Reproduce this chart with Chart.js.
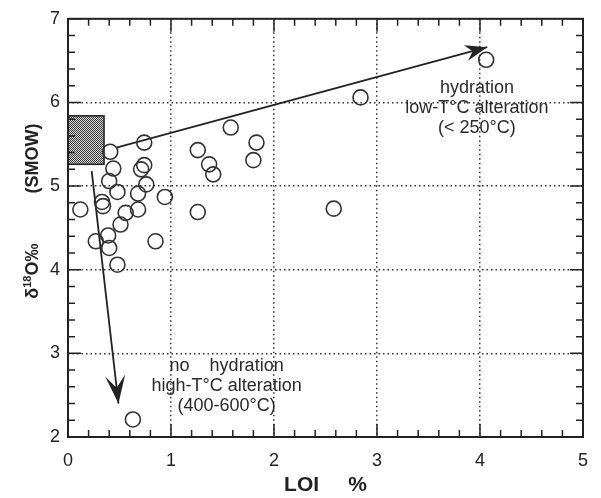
<!DOCTYPE html>
<html>
<head>
<meta charset="utf-8">
<script src="https://cdn.jsdelivr.net/npm/chart.js@4.4.1/dist/chart.umd.min.js"></script>
<style>
  html, body { margin: 0; padding: 0; background: #fff; }
  canvas { display: block; }
</style>
</head>
<body>
<canvas id="chart" width="601" height="498"></canvas>
<script>
// samples: LOI (wt %) and d18O (permil SMOW)
const loi  = [0.12, 0.27, 0.33, 0.34, 0.39, 0.40, 0.40, 0.41, 0.44, 0.48, 0.48, 0.51, 0.56, 0.68, 0.68, 0.71,
              0.74, 0.74, 0.76, 0.85, 0.94, 1.26, 1.26, 1.37, 1.41, 1.58, 1.80, 1.83, 2.58, 2.84, 4.06, 0.63];
const d18o = [4.72, 4.34, 4.81, 4.76, 4.41, 4.26, 5.06, 5.41, 5.21, 4.93, 4.06, 4.54, 4.68, 4.72, 4.91, 5.20,
              5.25, 5.52, 5.02, 4.34, 4.87, 5.43, 4.69, 5.26, 5.14, 5.70, 5.31, 5.52, 4.73, 6.06, 6.51, 2.21];

// fresh rock field (shaded box)
const boxLoi  = [0, 0.35];
const boxD18o = [5.26, 5.84];

// trend arrows
const upArrowLoi    = [0.47, 4.07];
const upArrowD18o   = [5.46, 6.66];
const downArrowLoi  = [0.23, 0.49];
const downArrowD18o = [5.18, 2.40];

// notes
const upNoteLines = ["hydration", "low-T°C alteration", "(< 250°C)"];
const upNoteLoi = 3.97;
const upNoteD18o = [6.17, 5.93, 5.69];
const lowNoteLines = ["no    hydration", "high-T°C alteration", "(400-600°C)"];
const lowNoteLoi = 1.54;
const lowNoteD18o = [2.85, 2.61, 2.37];

const xRange = [0, 5];
const yRange = [2, 7];
const minorStep = 0.2;

const FONT = "'Liberation Sans', Arial, Helvetica, sans-serif";
const INK = "#222";

function hatch() {
  const c = document.createElement("canvas");
  c.width = 2; c.height = 2;
  const g = c.getContext("2d");
  g.fillStyle = "#d8d8d8"; g.fillRect(0, 0, 2, 2);
  g.fillStyle = "#3a3a3a"; g.fillRect(0, 0, 1, 1); g.fillRect(1, 1, 1, 1);
  return g.createPattern(c, "repeat");
}

function head(ctx, from, to, len, half, notch) {
  const a = Math.atan2(to[1] - from[1], to[0] - from[0]);
  ctx.save();
  ctx.translate(to[0], to[1]);
  ctx.rotate(a);
  ctx.beginPath();
  ctx.moveTo(0, 0);
  ctx.lineTo(-len, -half);
  ctx.lineTo(-len + notch, 0);
  ctx.lineTo(-len, half);
  ctx.closePath();
  ctx.fill();
  ctx.restore();
}

const extras = {
  id: "extras",
  beforeDatasetsDraw(chart) {
    const {ctx} = chart, sx = chart.scales.x, sy = chart.scales.y;
    const x0 = sx.getPixelForValue(boxLoi[0]), x1 = sx.getPixelForValue(boxLoi[1]);
    const y0 = sy.getPixelForValue(boxD18o[1]), y1 = sy.getPixelForValue(boxD18o[0]);
    ctx.save();
    ctx.fillStyle = hatch();
    ctx.fillRect(x0, y0, x1 - x0, y1 - y0);
    ctx.strokeStyle = INK; ctx.lineWidth = 1.5;
    ctx.strokeRect(x0, y0, x1 - x0, y1 - y0);
    ctx.restore();
  },
  afterDatasetsDraw(chart) {
    const {ctx} = chart, sx = chart.scales.x, sy = chart.scales.y;
    const P = (x, y) => [sx.getPixelForValue(x), sy.getPixelForValue(y)];
    ctx.save();
    ctx.fillStyle = INK;
    head(ctx, P(upArrowLoi[0], upArrowD18o[0]), P(upArrowLoi[1], upArrowD18o[1]), 22, 8, 7);
    head(ctx, P(downArrowLoi[0], downArrowD18o[0]), P(downArrowLoi[1], downArrowD18o[1]), 28, 10, 12);

    ctx.fillStyle = "#2a2a2a";
    ctx.font = "18px " + FONT;
    ctx.textAlign = "center";
    ctx.textBaseline = "middle";
    upNoteLines.forEach((t, i) => { const p = P(upNoteLoi, upNoteD18o[i]); ctx.fillText(t, p[0], p[1]); });
    lowNoteLines.forEach((t, i) => { const p = P(lowNoteLoi, lowNoteD18o[i]); ctx.fillText(t, p[0], p[1]); });
    ctx.restore();
  },
  afterDraw(chart) {
    const {ctx, chartArea: a} = chart, sx = chart.scales.x, sy = chart.scales.y;
    ctx.save();
    ctx.strokeStyle = INK;
    ctx.lineWidth = 1.5;
    ctx.beginPath();
    const nx = Math.round((xRange[1] - xRange[0]) / minorStep);
    for (let i = 0; i <= nx; i++) {
      const X = sx.getPixelForValue(xRange[0] + i * minorStep);
      const L = i % 5 === 0 ? 13 : 7;
      ctx.moveTo(X, a.bottom); ctx.lineTo(X, a.bottom - L);
      ctx.moveTo(X, a.top); ctx.lineTo(X, a.top + L);
    }
    const ny = Math.round((yRange[1] - yRange[0]) / minorStep);
    for (let i = 0; i <= ny; i++) {
      const Y = sy.getPixelForValue(yRange[0] + i * minorStep);
      const L = i % 5 === 0 ? 13 : 7;
      ctx.moveTo(a.left, Y); ctx.lineTo(a.left + L, Y);
      ctx.moveTo(a.right, Y); ctx.lineTo(a.right - L, Y);
    }
    ctx.stroke();
    ctx.lineWidth = 2;
    ctx.strokeRect(a.left, a.top, a.right - a.left, a.bottom - a.top);

    // y axis title with superscript 18
    const cy = a.top + 0.46 * (a.bottom - a.top);
    ctx.translate(33, cy);
    ctx.rotate(-Math.PI / 2);
    ctx.fillStyle = INK;
    ctx.textBaseline = "middle";
    ctx.textAlign = "left";
    const big = "bold 18px " + FONT, small = "bold 11px " + FONT;
    const parts = [["δ", big, 0], ["18", small, -5], ["O‰", big, 0], ["          ", big, 0], ["(SMOW)", big, 0]];
    let w = 0;
    parts.forEach(p => { ctx.font = p[1]; w += ctx.measureText(p[0]).width; });
    let x = -w / 2;
    parts.forEach(p => { ctx.font = p[1]; ctx.fillText(p[0], x, p[2]); x += ctx.measureText(p[0]).width; });
    ctx.restore();
  }
};

const lineStyle = {type: "line", showLine: true, pointRadius: 0, borderColor: INK, borderWidth: 1.8, fill: false};

new Chart(document.getElementById("chart"), {
  type: "scatter",
  data: {
    datasets: [
      {
        data: loi.map((v, i) => ({x: v, y: d18o[i]})),
        pointStyle: "circle",
        pointRadius: 7.5,
        pointBorderWidth: 1.6,
        borderColor: "#333",
        backgroundColor: "rgba(0,0,0,0)"
      },
      Object.assign({data: upArrowLoi.map((v, i) => ({x: v, y: upArrowD18o[i]}))}, lineStyle),
      Object.assign({data: downArrowLoi.map((v, i) => ({x: v, y: downArrowD18o[i]}))}, lineStyle)
    ]
  },
  options: {
    responsive: false,
    animation: false,
    devicePixelRatio: 1,
    layout: {padding: {left: 0, top: 17, right: 14, bottom: 0}},
    plugins: {legend: {display: false}, tooltip: {enabled: false}},
    scales: {
      x: {
        type: "linear", min: xRange[0], max: xRange[1],
        afterFit: s => { s.height = 61; },
        ticks: {stepSize: 1, color: INK, padding: 13, font: {size: 18, family: FONT}},
        grid: {color: "#333", lineWidth: 1.5, drawTicks: false},
        border: {display: false, dash: [1.5, 3]},
        title: {display: true, text: "LOI     %", color: INK, padding: 0, font: {size: 21, weight: "bold", family: FONT}}
      },
      y: {
        type: "linear", min: yRange[0], max: yRange[1],
        afterFit: s => { s.width = 68; },
        ticks: {stepSize: 1, color: INK, padding: 8, font: {size: 18, family: FONT}},
        grid: {color: "#333", lineWidth: 1.5, drawTicks: false},
        border: {display: false, dash: [1.5, 3]}
      }
    }
  },
  plugins: [extras]
});
</script>
</body>
</html>
